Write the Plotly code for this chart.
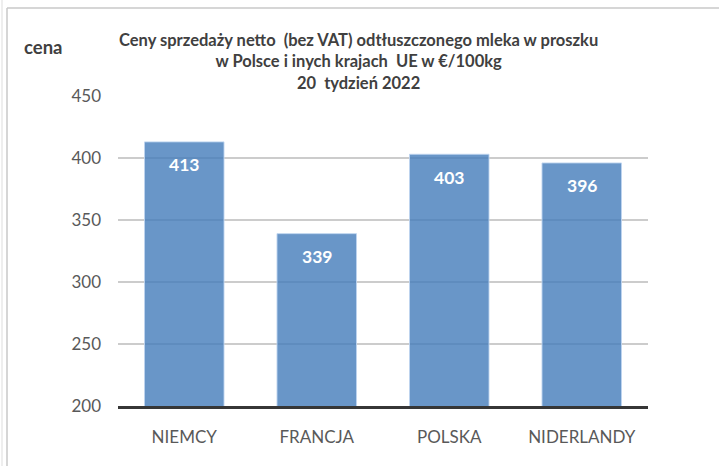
import plotly.graph_objects as go

# dane z wykresu
kraje = ["NIEMCY", "FRANCJA", "POLSKA", "NIDERLANDY"]
ceny = [413, 339, 403, 396]
y_ticks = [200, 250, 300, 350, 400, 450]

tytul = ("Ceny sprzedaży netto  (bez VAT) odtłuszczonego mleka w proszku<br>"
         "w Polsce i inych krajach  UE w €/100kg<br>"
         "20  tydzień 2022")

W, H = 719, 466
L, R, T, B = 118, 71, 96, 60
pw, ph = W - L - R, H - T - B


def px_x(px):
    return (px - L) / pw


def px_y(py):
    return (H - B - py) / ph


fig = go.Figure()
fig.add_trace(go.Bar(
    x=kraje, y=ceny,
    width=0.6,
    marker=dict(color="rgba(68,124,186,0.8)",
                line=dict(color="rgba(190,212,238,0.9)", width=1)),
    hoverinfo="x+y",
))

# etykiety wartości wewnątrz słupków
for k, v in zip(kraje, ceny):
    fig.add_annotation(x=k, y=v, text=str(v), showarrow=False,
                       yshift=-23, yanchor="middle",
                       font=dict(family="Lato", size=17.5, color="white", weight="bold"))

fig.add_annotation(x=px_x(358), y=px_y(61), xref="paper", yref="paper",
                   text=tytul, showarrow=False, xanchor="center", yanchor="middle",
                   align="center",
                   font=dict(family="Lato", size=16.5, color="#404040", weight="bold"))

fig.add_annotation(x=px_x(42.5), y=px_y(47), xref="paper", yref="paper",
                   text="cena", showarrow=False, xanchor="center", yanchor="middle",
                   font=dict(family="Lato", size=18.5, color="#404040", weight="bold"))

# ramka
fig.add_shape(type="line", xref="paper", yref="paper",
              x0=px_x(7), x1=px_x(7), y0=px_y(8), y1=px_y(480),
              line=dict(color="#C8C8C8", width=1.5))
fig.add_shape(type="line", xref="paper", yref="paper",
              x0=px_x(7), x1=px_x(730), y0=px_y(8), y1=px_y(8),
              line=dict(color="#C8C8C8", width=1.5))
fig.add_shape(type="line", xref="paper", yref="paper",
              x0=px_x(2), x1=px_x(2), y0=px_y(0), y1=px_y(480),
              line=dict(color="#DDDDDD", width=1))

fig.update_layout(
    width=W, height=H,
    margin=dict(l=L, r=R, t=T, b=B, autoexpand=False),
    paper_bgcolor="white", plot_bgcolor="white",
    showlegend=False,
    bargap=0.4,
    xaxis=dict(showline=True, linecolor="#363636", linewidth=3,
               ticks="", ticklabelstandoff=14,
               tickfont=dict(family="Lato", size=17, color="#595959")),
    yaxis=dict(range=[200, 450], tickvals=y_ticks,
               showgrid=True, gridcolor="#CCCCCC", gridwidth=1.5,
               zeroline=False, showline=False, ticks="",
               ticklabelstandoff=16,
               tickfont=dict(family="Lato", size=17, color="#595959")),
)

# bez domyślnego marginesu strony i bez paska narzędzi
fig.write_html("out.html", config={"displayModeBar": False},
               post_script="document.body.style.margin='0';")
